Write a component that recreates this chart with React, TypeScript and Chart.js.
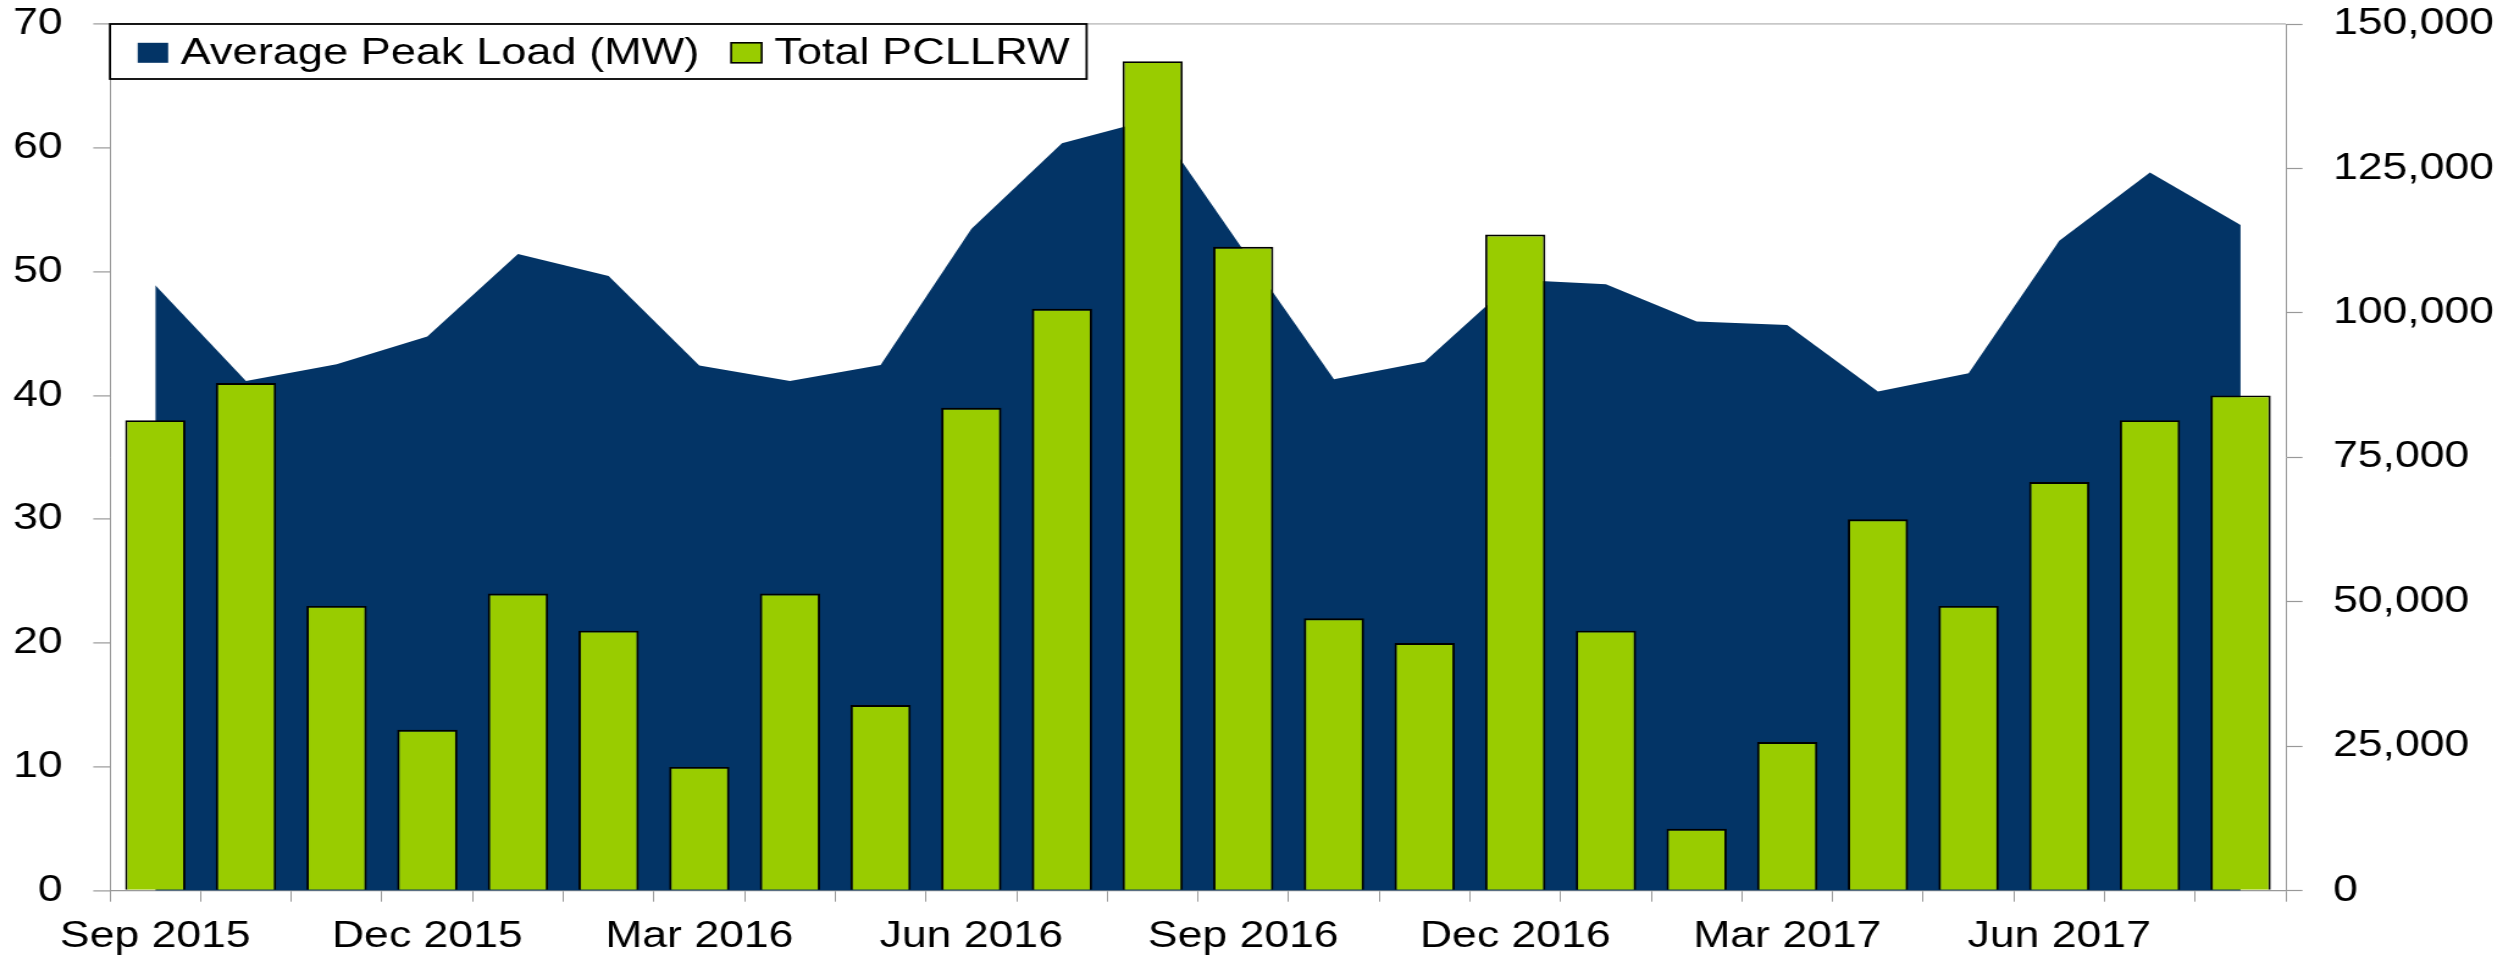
import React, { useEffect, useRef } from "react";
import { Chart, registerables } from "chart.js";

Chart.register(...registerables);

// ---- data ----
const months = [
  "Sep 2015", "Oct 2015", "Nov 2015", "Dec 2015", "Jan 2016", "Feb 2016",
  "Mar 2016", "Apr 2016", "May 2016", "Jun 2016", "Jul 2016", "Aug 2016",
  "Sep 2016", "Oct 2016", "Nov 2016", "Dec 2016", "Jan 2017", "Feb 2017",
  "Mar 2017", "Apr 2017", "May 2017", "Jun 2017", "Jul 2017", "Aug 2017",
];
const peakLoadLabel = "Average Peak Load (MW)";
const pcllrwLabel = "Total PCLLRW";
const peakLoad = [
  104800, 88200, 91100, 95900, 110200, 106400, 90900, 88200, 91000, 114500, 129350, 133500,
  110900, 88500, 91550, 105750, 104950, 98500, 97900, 86400, 89550, 112500, 124300, 115200,
];
const pcllrw = [
  38, 41, 23, 13, 24, 21, 10, 24, 15, 39, 47, 67,
  52, 22, 20, 53, 21, 5, 12, 30, 23, 33, 38, 40,
];
const leftTicksMax = 70;
const leftStep = 10;
const rightTicksMax = 150000;
const rightStep = 25000;

// ---- styling ----
const NAVY = "#033466";
const GREEN = "#99CC00";
const AXIS = "#999999";
const FONT = '"Liberation Sans", Arial, Helvetica, sans-serif';
const STRETCH = 1.2204; // horizontal stretch of the picture
const W_CSS = 2514;
const H = 961;
const W = Math.round(W_CSS / STRETCH);

const legendBoxPlugin = {
  id: "legendBox",
  afterDraw(chart: any) {
    const ctx = chart.ctx as CanvasRenderingContext2D;
    const area = chart.chartArea;
    const ds = chart.data.datasets;
    const items = [
      { text: ds[0].label, fill: NAVY, stroke: null as string | null },
      { text: ds[1].label, fill: GREEN, stroke: "#000" },
    ];
    ctx.save();
    ctx.font = `37px ${FONT}`;
    const left = area.left;
    const top = area.top;
    const boxW = 25;
    const boxH = 20;
    const gap = 10.3;
    const itemGap = 26;
    const boxTop = top + 18.8;
    const baseline = top + 40;
    let x = left + 22.7;
    const pos: { bx: number; tx: number }[] = [];
    items.forEach((it) => {
      const tw = ctx.measureText(it.text).width;
      pos.push({ bx: x, tx: x + boxW + gap });
      x = x + boxW + gap + tw + itemGap;
    });
    const right = x - itemGap + 14;
    ctx.fillStyle = "#fff";
    ctx.fillRect(left, top, right - left, 55);
    ctx.lineWidth = 1.8;
    ctx.strokeStyle = "#000";
    ctx.strokeRect(left, top, right - left, 55);
    items.forEach((it, i) => {
      ctx.fillStyle = it.fill;
      ctx.fillRect(pos[i].bx, boxTop, boxW, boxH);
      if (it.stroke) {
        ctx.lineWidth = 1.6;
        ctx.strokeStyle = it.stroke;
        ctx.strokeRect(pos[i].bx, boxTop, boxW, boxH);
      }
      ctx.fillStyle = "#000";
      ctx.textBaseline = "alphabetic";
      ctx.textAlign = "left";
      ctx.fillText(it.text, pos[i].tx, baseline);
    });
    ctx.restore();
  },
};

export default function App() {
  const ref = useRef<HTMLCanvasElement | null>(null);
  useEffect(() => {
    const canvas = ref.current;
    if (!canvas) return;
    const tickFont = { family: FONT, size: 36.5 };
    const chart = new Chart(canvas, {
      type: "bar",
      data: {
        labels: months,
        datasets: [
          {
            type: "line",
            label: peakLoadLabel,
            data: peakLoad,
            yAxisID: "y2",
            fill: "origin",
            backgroundColor: NAVY,
            borderColor: NAVY,
            borderWidth: 0,
            pointRadius: 0,
            pointHoverRadius: 0,
            tension: 0,
            order: 1,
          } as any,
          {
            type: "bar",
            label: pcllrwLabel,
            data: pcllrw,
            yAxisID: "y",
            backgroundColor: GREEN,
            borderColor: "#000",
            borderWidth: 1.9,
            barPercentage: 0.665,
            categoryPercentage: 1,
            order: 0,
          } as any,
        ],
      },
      options: {
        responsive: false,
        animation: false,
        devicePixelRatio: 1,
        layout: { padding: { top: 24, left: 0, right: 0, bottom: 0 } },
        plugins: {
          legend: { display: false },
          tooltip: { enabled: false },
          title: { display: false },
        },
        scales: {
          x: {
            offset: true,
            grid: {
              offset: true,
              drawOnChartArea: false,
              tickLength: 11,
              tickColor: AXIS,
              tickWidth: 1,
            },
            border: { color: AXIS, width: 1.2 },
            ticks: {
              autoSkip: false,
              maxRotation: 0,
              minRotation: 0,
              padding: 13,
              color: "#000",
              font: tickFont,
              callback: (_v: any, i: number) => (i % 3 === 0 ? months[i] : ""),
            },
            afterFit: (s: any) => {
              s.height = 70.3;
              s.paddingLeft = 0;
              s.paddingRight = 0;
            },
          },
          y: {
            position: "left",
            min: 0,
            max: leftTicksMax,
            grid: {
              drawOnChartArea: true,
              color: (c: any) =>
                c.tick && c.tick.value === leftTicksMax ? "#c8c8c8" : "rgba(0,0,0,0)",
              lineWidth: 1.8,
              tickColor: AXIS,
              tickWidth: 1.2,
              tickLength: 13.7,
            },
            border: { color: AXIS, width: 1 },
            ticks: {
              stepSize: leftStep,
              padding: 25,
              color: "#000",
              font: tickFont,
            },
            afterFit: (s: any) => {
              s.width = 90.1;
              s.paddingTop = 0;
              s.paddingBottom = 0;
            },
          },
          y2: {
            position: "right",
            min: 0,
            max: rightTicksMax,
            grid: {
              drawOnChartArea: false,
              tickColor: AXIS,
              tickWidth: 1.2,
              tickLength: 13.6,
            },
            border: { color: AXIS, width: 1 },
            ticks: {
              stepSize: rightStep,
              padding: 25,
              color: "#000",
              font: tickFont,
              callback: (v: any) => Number(v).toLocaleString("en-US"),
            },
            afterFit: (s: any) => {
              s.width = W - 1873.1;
              s.paddingTop = 0;
              s.paddingBottom = 0;
            },
          },
        },
      } as any,
      plugins: [legendBoxPlugin],
    });
    return () => chart.destroy();
  }, []);

  return (
    <div
      style={{
        position: "absolute",
        left: 0,
        top: 0,
        width: W_CSS,
        height: H,
        background: "#fff",
        overflow: "hidden",
      }}
    >
      <canvas
        ref={ref}
        width={W}
        height={H}
        style={{ width: `${W_CSS}px`, height: `${H}px`, display: "block" }}
      />
    </div>
  );
}
